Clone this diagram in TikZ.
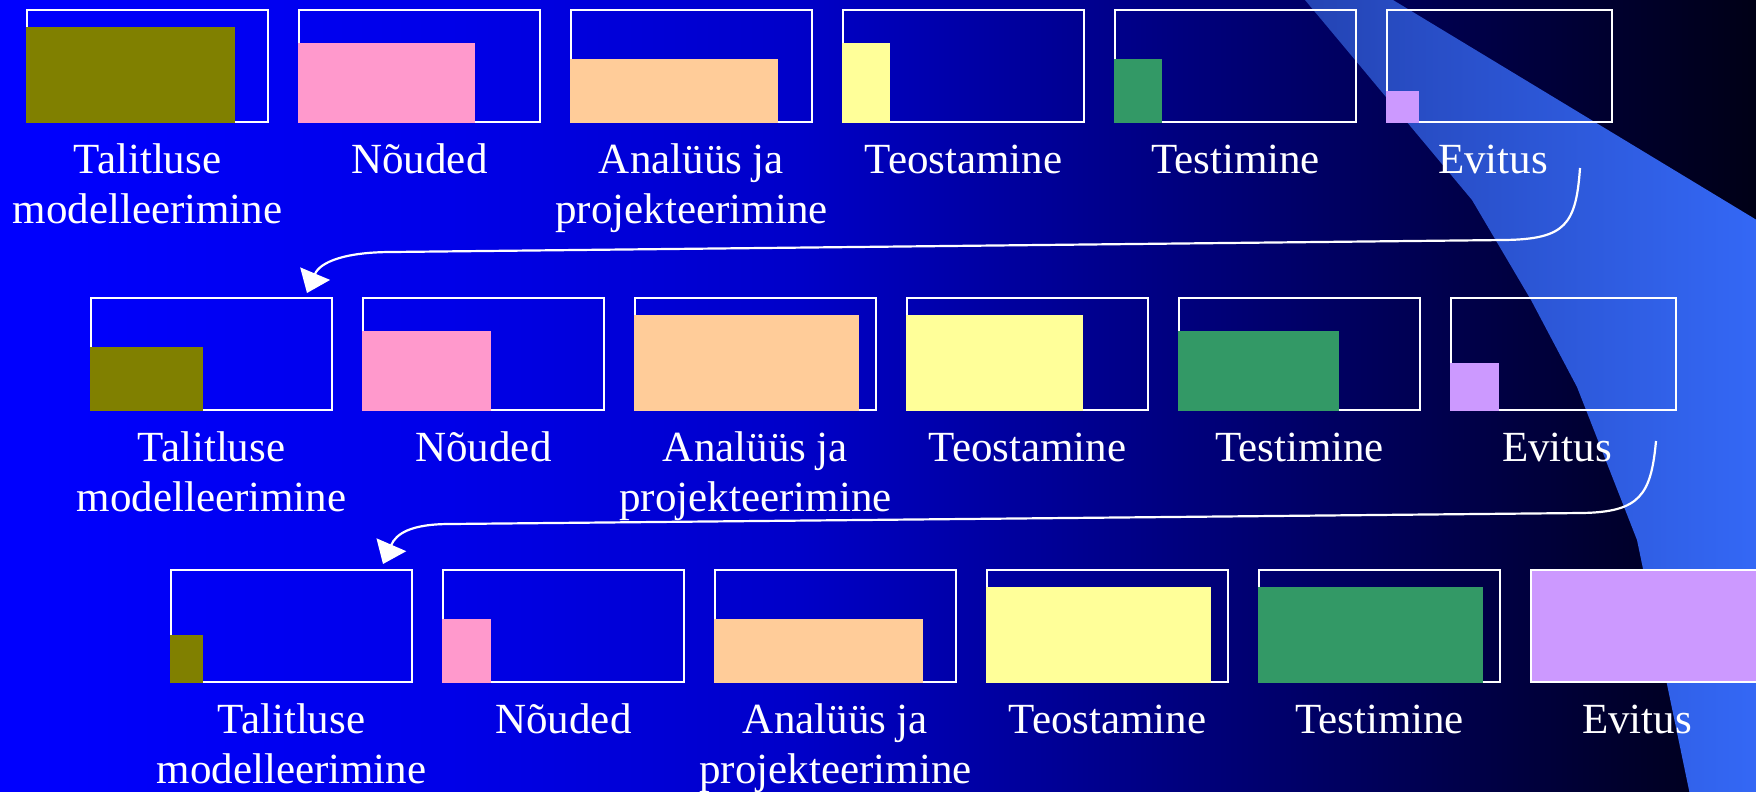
\documentclass[tikz,border=0pt]{standalone}
\usepackage{fontspec}
\setmainfont{Liberation Serif}
\usetikzlibrary{arrows.meta,calc}
\definecolor{bgA}{RGB}{0,0,255}
\definecolor{bgB}{RGB}{0,0,232}
\definecolor{bgC}{RGB}{0,0,200}
\definecolor{bgD}{RGB}{0,0,160}
\definecolor{bgE}{RGB}{0,0,122}
\definecolor{bgF}{RGB}{0,0,85}
\definecolor{bgG}{RGB}{0,0,48}
\definecolor{bgH}{RGB}{0,0,22}
\definecolor{bandL}{RGB}{36,68,180}
\definecolor{bandR}{RGB}{52,104,246}
\definecolor{olivefill}{RGB}{128,128,0}
\definecolor{pinkfill}{RGB}{255,153,204}
\definecolor{peachfill}{RGB}{255,204,153}
\definecolor{yellowfill}{RGB}{255,255,153}
\definecolor{greenfill}{RGB}{51,153,102}
\definecolor{purplefill}{RGB}{204,153,255}
\pgfdeclarehorizontalshading{bgshade}{100bp}{color(0bp)=(bgA); color(25bp)=(bgA); color(37.8bp)=(bgB); color(47.8bp)=(bgC); color(53.5bp)=(bgD); color(59.2bp)=(bgE); color(64.9bp)=(bgF); color(70.6bp)=(bgG); color(75bp)=(bgH); color(100bp)=(bgH)}
\newcommand{\stagefill}[4]{\fill[#2] ([shift={(-1,1)}]#1.south west) rectangle ++(#3,-#4);}
\tikzset{
  stage/.style={draw=white, line width=2pt, minimum width=241pt, minimum height=112pt, inner sep=0pt, outer sep=0pt, anchor=north west},
  laststage/.style={stage, minimum width=225pt},
  lbl/.style={text=white, font=\fontsize{43}{50}\selectfont, align=center, anchor=north, inner sep=0pt},
  conn/.style={draw=white, line width=2.2pt, -{Triangle[length=21pt,width=32pt]}},
}
\begin{document}
\begin{tikzpicture}[x=1pt,y=-1pt]
\useasboundingbox (0,0) rectangle (1756,792);
\shade[shading=bgshade] (0,0) rectangle (1756,792);
\shade[left color=bandL, right color=bandR] (1305,0) -- (1393,0) -- (1760,222) -- (1760,795) -- (1690,795) -- (1637,540) -- (1577,387) -- (1531,300) -- (1472,200) -- cycle;

% Row 1
\node[stage] (b11) at (27,10) {};
\node[stage] (b12) at (299,10) {};
\node[stage] (b13) at (571,10) {};
\node[stage] (b14) at (843,10) {};
\node[stage] (b15) at (1115,10) {};
\node[laststage] (b16) at (1387,10) {};
\stagefill{b11}{olivefill}{209}{96}
\stagefill{b12}{pinkfill}{177}{80}
\stagefill{b13}{peachfill}{208}{64}
\stagefill{b14}{yellowfill}{48}{80}
\stagefill{b15}{greenfill}{48}{64}
\stagefill{b16}{purplefill}{33}{32}
\node[lbl] (l11) at ($(b11.south)+(0,19)$) {\rule{0pt}{32pt}Talitluse\\modelleerimine};
\node[lbl] (l12) at ($(b12.south)+(0,19)$) {\rule{0pt}{32pt}Nõuded};
\node[lbl] (l13) at ($(b13.south)+(0,19)$) {\rule{0pt}{32pt}Analüüs ja\\projekteerimine};
\node[lbl] (l14) at ($(b14.south)+(0,19)$) {\rule{0pt}{32pt}Teostamine};
\node[lbl] (l15) at ($(b15.south)+(0,19)$) {\rule{0pt}{32pt}Testimine};
\node[lbl] (l16) at ($(b16.south west)+(106,19)$) {\rule{0pt}{32pt}Evitus};

% Row 2
\node[stage] (b21) at (91,298) {};
\node[stage] (b22) at (363,298) {};
\node[stage] (b23) at (635,298) {};
\node[stage] (b24) at (907,298) {};
\node[stage] (b25) at (1179,298) {};
\node[laststage] (b26) at (1451,298) {};
\stagefill{b21}{olivefill}{113}{64}
\stagefill{b22}{pinkfill}{129}{80}
\stagefill{b23}{peachfill}{225}{96}
\stagefill{b24}{yellowfill}{177}{96}
\stagefill{b25}{greenfill}{161}{80}
\stagefill{b26}{purplefill}{49}{48}
\node[lbl] (l21) at ($(b21.south)+(0,19)$) {\rule{0pt}{32pt}Talitluse\\modelleerimine};
\node[lbl] (l22) at ($(b22.south)+(0,19)$) {\rule{0pt}{32pt}Nõuded};
\node[lbl] (l23) at ($(b23.south)+(0,19)$) {\rule{0pt}{32pt}Analüüs ja\\projekteerimine};
\node[lbl] (l24) at ($(b24.south)+(0,19)$) {\rule{0pt}{32pt}Teostamine};
\node[lbl] (l25) at ($(b25.south)+(0,19)$) {\rule{0pt}{32pt}Testimine};
\node[lbl] (l26) at ($(b26.south west)+(106,19)$) {\rule{0pt}{32pt}Evitus};

% Row 3
\node[stage] (b31) at (171,570) {};
\node[stage] (b32) at (443,570) {};
\node[stage] (b33) at (715,570) {};
\node[stage] (b34) at (987,570) {};
\node[stage] (b35) at (1259,570) {};
\node[stage, fill=purplefill, minimum width=260pt] (b36) at (1531,570) {};
\stagefill{b31}{olivefill}{33}{48}
\stagefill{b32}{pinkfill}{49}{64}
\stagefill{b33}{peachfill}{209}{64}
\stagefill{b34}{yellowfill}{225}{96}
\stagefill{b35}{greenfill}{225}{96}
\node[lbl] (l31) at ($(b31.south)+(0,19)$) {\rule{0pt}{32pt}Talitluse\\modelleerimine};
\node[lbl] (l32) at ($(b32.south)+(0,19)$) {\rule{0pt}{32pt}Nõuded};
\node[lbl] (l33) at ($(b33.south)+(0,19)$) {\rule{0pt}{32pt}Analüüs ja\\projekteerimine};
\node[lbl] (l34) at ($(b34.south)+(0,19)$) {\rule{0pt}{32pt}Teostamine};
\node[lbl] (l35) at ($(b35.south)+(0,19)$) {\rule{0pt}{32pt}Testimine};
\node[lbl] (l36) at ($(b36.south west)+(106,19)$) {\rule{0pt}{32pt}Evitus};

% Connectors
\coordinate (s1) at (1580,168);
\coordinate (m1) at (1505,240);
\coordinate (n1) at (392,252);
\draw[conn] (s1) .. controls (1576,225) and (1565,239) .. (m1) -- (n1) .. controls (345,252) and (320,262) .. ([shift={(-25,-5)}]b21.north east);
\coordinate (s2) at (1656,441);
\coordinate (m2) at (1582,513);
\coordinate (n2) at (450,524);
\draw[conn] (s2) .. controls (1651,495) and (1640,512) .. (m2) -- (n2) .. controls (410,524) and (396,534) .. ([shift={(-29,-6)}]b31.north east);
\end{tikzpicture}
\end{document}
